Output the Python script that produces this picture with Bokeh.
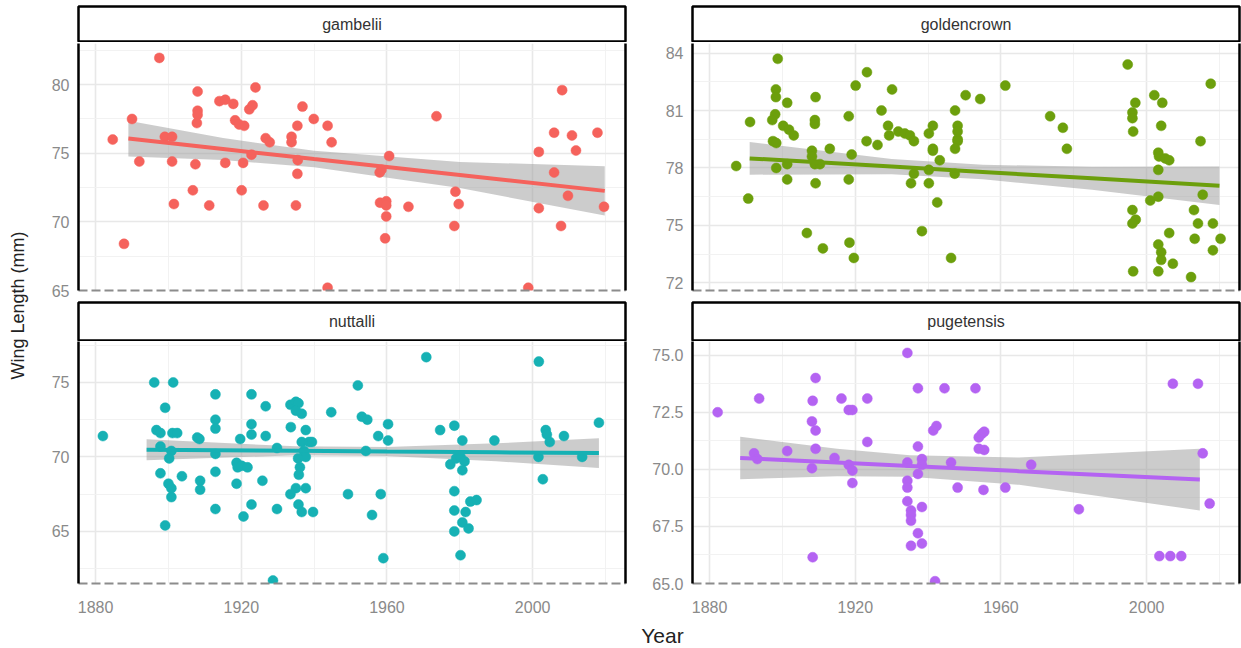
import math
from bokeh.plotting import figure
from bokeh.layouts import row, column
from bokeh.models import FixedTicker, LinearAxis, Label, NumeralTickFormatter
from bokeh.embed import file_html
from bokeh.resources import INLINE
from bokeh.core.properties import value

# ---------------- data ----------------
subspecies = ["gambelii", "goldencrown", "nuttalli", "pugetensis"]
colors = ["#F5625C", "#6C9F0C", "#16B1B4", "#B463F2"]

x_ticks = [1880, 1920, 1960, 2000]
x_minor = [1900, 1940, 1980, 2020]
x_title = "Year"
y_title = "Wing Length (mm)"

gambelii_year = [1897.5, 1890, 1892, 1899, 1901, 1901, 1887.8, 1901.5, 1908, 1908, 1908, 1907.8,
                 1907.4, 1906.7, 1911.2, 1914, 1915.6, 1917.8, 1918.3, 1919.4, 1920.8, 1922.2,
                 1923.1, 1923.9, 1920.1, 1922.8, 1926.7, 1927.8, 1926.1, 1935, 1933.8, 1933.8,
                 1935.5, 1936.8, 1939.9, 1943.7, 1944.8, 1958, 1958.5, 1960.6, 1958.1, 1959.8,
                 1959.8, 1959.8, 1959.5, 1965.9, 1973.6, 1978.8, 1979.7, 1978.5, 2001.7, 2001.7,
                 2005.9, 2005.9, 2008.1, 2009.7, 2010.8, 2011.9, 2007.8, 2017.8, 2019.6, 1915.6,
                 1920.5, 1935.4, 1935.4, 1884.7, 1943.7, 1998.8]
gambelii_wing = [81.95, 77.5, 74.4, 76.2, 76.2, 74.4, 68.4, 71.3, 79.5, 78.1, 77.8, 77.2,
                 74.2, 72.3, 71.2, 78.8, 78.9, 78.6, 77.4, 77.1, 77.0, 78.2,
                 78.5, 79.8, 72.3, 74.9, 76.1, 75.8, 71.2, 71.2, 76.2, 75.8,
                 74.5, 78.4, 77.5, 77.0, 75.8, 73.6, 73.8, 74.8, 71.4, 71.5,
                 71.2, 70.4, 68.8, 71.1, 77.7, 72.2, 71.3, 69.7, 75.1, 71.0,
                 76.5, 73.6, 79.6, 71.9, 76.3, 75.2, 69.7, 76.5, 71.1, 74.3,
                 74.3, 73.5, 77.0, 76.0, 65.2, 65.2]

goldencrown_year = [1898.7, 1891.1, 1890.6, 1898.2, 1898.2, 1901.3, 1898.0, 1897.2, 1900.2, 1901.8,
                    1903.1, 1897.4, 1898.3, 1898.3, 1901.3, 1901.3, 1909.1, 1908.9, 1908.9, 1908.1,
                    1908.1, 1908.9, 1910.3, 1909.1, 1913.0, 1918.2, 1919.0, 1918.2, 1920.1, 1923.2,
                    1923.1, 1926.1, 1927.2, 1930.1, 1929.0, 1929.3, 1931.8, 1933.6, 1935.0, 1936.1,
                    1941.3, 1940.2, 1941.3, 1941.3, 1943.2, 1936.1, 1935.3, 1940.2, 1940.2, 1947.4,
                    1948.1, 1948.1, 1948.1, 1948.1, 1947.4, 1947.3, 1950.3, 1954.3, 1961.2, 1918.4,
                    1919.6, 1946.3, 1906.7, 1911.1, 1942.5, 1938.3, 1973.5, 1977.0, 1978.1, 1994.8,
                    2017.6, 1996.9, 1996.1, 1996.1, 1996.3, 2002.1, 2004.3, 2004.0, 2014.8, 2003.2,
                    2003.4, 2005.1, 2006.2, 2003.2, 2001.0, 2003.2, 2015.4, 1996.1, 1997.0, 1996.1,
                    2006.2, 2013.0, 2013.2, 2014.1, 2018.2, 2020.3, 2018.2, 2003.2, 2004.0, 2004.0,
                    2007.2, 1996.3, 2003.2, 2012.2, 1887.3]
goldencrown_wing = [83.7, 80.4, 76.4, 82.1, 81.7, 81.4, 80.8, 80.5, 80.2, 80.0,
                    79.7, 79.4, 79.3, 78.0, 78.2, 77.4, 81.7, 80.5, 80.3, 78.9,
                    78.6, 78.2, 78.2, 77.2, 79.0, 80.7, 78.7, 77.4, 82.3, 83.0,
                    79.4, 79.2, 81.0, 82.1, 80.2, 79.7, 79.9, 79.8, 79.7, 79.4,
                    80.2, 79.8, 79.0, 78.9, 78.4, 77.7, 77.2, 77.9, 77.2, 81.0,
                    80.2, 79.9, 79.5, 79.4, 79.0, 77.7, 81.8, 81.6, 82.3, 74.1,
                    73.3, 73.3, 74.6, 73.8, 76.2, 74.7, 80.7, 80.1, 79.0, 83.4,
                    82.4, 81.4, 80.9, 80.6, 79.9, 81.8, 81.4, 80.2, 79.4, 78.8,
                    78.6, 78.5, 78.4, 77.9, 76.3, 76.5, 76.6, 75.8, 75.3, 75.1,
                    74.6, 75.8, 74.3, 75.1, 75.1, 74.3, 73.7, 74.0, 73.6, 73.2,
                    73.0, 72.6, 72.6, 72.3, 78.1]

nuttalli_year = [1882, 1896.1, 1901.3, 1899.1, 1899.1, 1896.7, 1897.8, 1901.1, 1902.4, 1897.8,
                 1900.8, 1900.2, 1897.8, 1900, 1900.8, 1900.8, 1903.7, 1907.9, 1908.5, 1908.7,
                 1908.7, 1912.9, 1912.9, 1912.9, 1912.9, 1912.9, 1912.9, 1918.7, 1919, 1920.1,
                 1921.7, 1918.7, 1919.7, 1920.6, 1922.8, 1922.8, 1922.8, 1922.8, 1925.8, 1926.7,
                 1926.7, 1929.8, 1929.8, 1933.5, 1935, 1935.7, 1935, 1936.6, 1933.6, 1937.7,
                 1936.6, 1938.6, 1939.4, 1937.2, 1937.7, 1935.6, 1936.1, 1935.8, 1935, 1937.7,
                 1933.5, 1935.7, 1936.6, 1939.7, 1944.7, 1952, 1953.1, 1954.6, 1954.2, 1949.3,
                 1958.3, 1955.9, 1959, 1957.6, 1960.3, 1960.3, 1970.8, 1974.6, 1978.5, 1980.7,
                 1977.4, 1979, 1980.2, 1981.3, 1980.7, 1978.5, 1978.5, 1981.6, 1982.9, 1984.6,
                 1980.7, 1978.5, 1982.4, 1980.2, 1989.5, 2001.6, 2002.8, 2003.6, 2003.9, 2004.7,
                 2008.6, 2013.6, 2018.2, 2001.7, 1928.7]
nuttalli_wing = [71.4, 75.0, 75.0, 73.3, 65.4, 71.8, 71.6, 71.6, 71.6, 70.7,
                 70.4, 69.9, 68.9, 68.2, 67.9, 67.3, 68.7, 71.3, 71.2, 68.4,
                 67.8, 74.2, 72.5, 71.9, 70.2, 69.0, 66.5, 69.6, 69.3, 69.4,
                 69.3, 68.2, 71.2, 66.0, 74.2, 72.2, 71.5, 66.8, 68.4, 73.4,
                 71.4, 70.6, 66.5, 73.5, 73.7, 73.6, 73.1, 72.9, 72.0, 71.8,
                 71.0, 71.0, 71.0, 70.4, 70.0, 69.9, 69.3, 68.8, 67.9, 67.9,
                 67.5, 66.8, 66.3, 66.3, 73.0, 74.8, 72.7, 72.5, 70.4, 67.5,
                 67.5, 66.1, 63.2, 71.4, 71.1, 72.2, 76.7, 71.8, 72.1, 71.1,
                 69.5, 69.9, 70.0, 69.7, 69.1, 67.7, 66.4, 66.3, 67.0, 67.1,
                 65.6, 65.0, 65.2, 63.4, 71.1, 70.0, 68.5, 71.8, 71.5, 71.0,
                 71.4, 70.0, 72.3, 76.4, 61.7]

pugetensis_year = [1882.2, 1934.3, 1909.1, 1937.2, 1944.5, 1953.0, 2007.2, 2014.1, 1893.6, 1908.3,
                   1916.2, 1923.3, 1918.2, 1919.2, 1908.1, 1909.1, 1909.1, 1901.3, 1892.2, 1893.1,
                   1914.3, 1908.1, 1918.2, 1919.2, 1919.2, 1923.3, 1934.3, 1937.2, 1938.3, 1938.3,
                   1937.2, 1934.3, 1934.3, 1934.3, 1935.3, 1935.3, 1935.3, 1938.3, 1937.2, 1935.3,
                   1938.3, 1941.4, 1942.3, 1946.3, 1948.1, 1953.9, 1954.7, 1955.4, 1953.9, 1955.4,
                   1955.2, 1961.2, 1968.3, 1981.4, 1908.3, 2003.5, 2006.5, 2009.5, 2015.4, 2017.3,
                   1941.9]
pugetensis_wing = [72.5, 75.1, 74.0, 73.55, 73.55, 73.55, 73.75, 73.75, 73.1, 73.0,
                   73.1, 73.1, 72.6, 72.6, 72.1, 71.7, 70.9, 70.8, 70.7, 70.45,
                   70.5, 70.05, 70.2, 69.95, 69.4, 71.2, 70.3, 71.0, 70.45, 70.2,
                   69.8, 69.5, 69.2, 68.6, 68.2, 68.0, 67.75, 68.35, 67.2, 66.65,
                   66.75, 71.7, 71.9, 70.3, 69.2, 71.4, 71.55, 71.65, 70.9, 70.85,
                   69.1, 69.2, 70.2, 68.25, 66.15, 66.2, 66.2, 66.2, 70.7, 68.5,
                   65.1]

# linear fits (geom_smooth, method = "lm")
gambelii_fit_year = [1889, 1915, 1940, 1980, 2019.8]
gambelii_fit = [76.07, 75.31, 74.58, 73.42, 72.26]
gambelii_lo = [74.77, 74.51, 73.98, 72.47, 70.46]
gambelii_hi = [77.37, 76.11, 75.18, 74.37, 74.06]

goldencrown_fit_year = [1891, 1930, 1955, 1985, 2020]
goldencrown_fit = [78.5, 78.07, 77.79, 77.46, 77.07]
goldencrown_lo = [77.65, 77.67, 77.41, 76.86, 76.07]
goldencrown_hi = [79.35, 78.47, 78.17, 78.06, 78.07]

nuttalli_fit_year = [1894, 1935, 1960, 1990, 2018.2]
nuttalli_fit = [70.48, 70.41, 70.36, 70.31, 70.26]
nuttalli_lo = [69.78, 70.11, 70.06, 69.71, 69.26]
nuttalli_hi = [71.18, 70.71, 70.66, 70.91, 71.26]

pugetensis_fit_year = [1888.4, 1915, 1935, 1965, 2014.6]
pugetensis_fit = [70.5, 70.3, 70.15, 69.92, 69.55]
pugetensis_lo = [69.57, 69.7, 69.68, 69.32, 68.2]
pugetensis_hi = [71.43, 70.9, 70.62, 70.52, 70.9]

y_ranges = [(65.0, 83.0), (71.6, 84.5), (61.5, 77.75), (65.0, 75.6)]
y_ticks = [[65, 70, 75, 80], [72, 75, 78, 81, 84], [65, 70, 75], [65.0, 67.5, 70.0, 72.5, 75.0]]
y_minor = [[67.5, 72.5, 77.5, 82.5], [73.5, 76.5, 79.5, 82.5], [62.5, 67.5, 72.5, 77.5],
           [66.25, 68.75, 71.25, 73.75]]

years = [gambelii_year, goldencrown_year, nuttalli_year, pugetensis_year]
wings = [gambelii_wing, goldencrown_wing, nuttalli_wing, pugetensis_wing]
fit_years = [gambelii_fit_year, goldencrown_fit_year, nuttalli_fit_year, pugetensis_fit_year]
fits = [gambelii_fit, goldencrown_fit, nuttalli_fit, pugetensis_fit]
los = [gambelii_lo, goldencrown_lo, nuttalli_lo, pugetensis_lo]
his = [gambelii_hi, goldencrown_hi, nuttalli_hi, pugetensis_hi]

FONT = "Liberation Sans"
TICK_COLOR = "#8A8A8A"


def make_strip(name, w, h, bl, br, bt, bb):
    s = figure(width=w, height=h, x_range=(0, 1), y_range=(0, 1), toolbar_location=None,
               output_backend="svg", x_axis_location=None, y_axis_location=None,
               min_border_left=bl, min_border_right=br, min_border_top=bt, min_border_bottom=bb)
    s.grid.visible = False
    s.outline_line_color = "black"
    s.outline_line_width = 2.5
    s.text(x=[0.5], y=[0.5], text=[name], text_align="center", text_baseline="middle",
           text_font=value(FONT), text_font_size="16px", text_color="#333333")
    return s


def make_panel(i, w, h, bl, br, bt, bb, bottom):
    p = figure(width=w, height=h, x_range=(1875.3, 2025.5), y_range=y_ranges[i],
               toolbar_location=None, output_backend="svg",
               min_border_left=bl, min_border_right=br, min_border_top=bt, min_border_bottom=bb)
    p.outline_line_color = None
    # axes
    p.xaxis.ticker = FixedTicker(ticks=x_ticks if bottom else [])
    p.yaxis.ticker = FixedTicker(ticks=y_ticks[i])
    for ax in (p.xaxis, p.yaxis):
        ax.major_tick_line_color = None
        ax.minor_tick_line_color = None
        ax.major_tick_out = 0
        ax.major_tick_in = 0
        ax.major_label_text_font = FONT
        ax.major_label_text_font_size = "16px"
        ax.major_label_text_color = TICK_COLOR
    p.xaxis.axis_line_color = "#8C8C8C"
    p.xaxis.axis_line_width = 2
    p.xaxis.axis_line_dash = "9 4"
    p.xaxis.major_label_standoff = 17
    p.yaxis.axis_line_color = "black"
    p.yaxis.axis_line_width = 2.5
    p.yaxis.major_label_standoff = 9
    if i == 3:
        p.yaxis.formatter = NumeralTickFormatter(format="0.0")
    right = LinearAxis(ticker=FixedTicker(ticks=[]), axis_line_color="black", axis_line_width=2.5,
                       major_tick_line_color=None, minor_tick_line_color=None,
                       major_tick_out=0, major_tick_in=0)
    p.add_layout(right, "right")
    # grids
    p.xgrid.ticker = FixedTicker(ticks=x_ticks, minor_ticks=x_minor)
    p.ygrid.ticker = FixedTicker(ticks=y_ticks[i], minor_ticks=y_minor[i])
    for g in (p.xgrid, p.ygrid):
        g.grid_line_color = "#E8E8E8"
        g.grid_line_width = 1.6
        g.minor_grid_line_color = "#F1F1F1"
        g.minor_grid_line_width = 0.9
    # glyphs
    p.varea(x=fit_years[i], y1=los[i], y2=his[i], fill_color="#999999", fill_alpha=0.5)
    p.scatter(x=years[i], y=wings[i], size=10, fill_color=colors[i], line_color=colors[i],
              line_width=0.5)
    p.line(x=fit_years[i], y=fits[i], line_color=colors[i], line_width=4)
    return p


YL_W = 30
LW, RW = 602, 609
L_BL, L_BR = 48, 7
R_BL, R_BR = 60, 2

s_tl = make_strip(subspecies[0], LW, 42, L_BL, L_BR, 6, 1)
s_tr = make_strip(subspecies[1], RW, 42, R_BL, R_BR, 6, 1)
p_tl = make_panel(0, LW, 258, L_BL, L_BR, 1, 10, False)
p_tr = make_panel(1, RW, 258, R_BL, R_BR, 1, 10, False)
s_bl = make_strip(subspecies[2], LW, 41, L_BL, L_BR, 2, 1)
s_br = make_strip(subspecies[3], RW, 41, R_BL, R_BR, 2, 1)
p_bl = make_panel(2, LW, 284, L_BL, L_BR, 0, 42, True)
p_br = make_panel(3, RW, 284, R_BL, R_BR, 0, 42, True)

GRID_H = 42 + 258 + 41 + 284

ylab = figure(width=YL_W, height=GRID_H, toolbar_location=None, output_backend="svg",
              x_axis_location=None, y_axis_location=None,
              min_border_left=0, min_border_right=0, min_border_top=0, min_border_bottom=0)
ylab.grid.visible = False
ylab.outline_line_color = None
ylab.add_layout(Label(x=17, y=GRID_H - 305, x_units="screen", y_units="screen", text=y_title,
                      angle=math.pi / 2, text_align="center", text_baseline="middle",
                      text_font=FONT, text_font_size="18px", text_color="#222222"))

xlab = figure(width=YL_W + LW + RW, height=648 - GRID_H, toolbar_location=None,
              output_backend="svg", x_axis_location=None, y_axis_location=None,
              min_border_left=0, min_border_right=0, min_border_top=0, min_border_bottom=0)
xlab.grid.visible = False
xlab.outline_line_color = None
xlab.add_layout(Label(x=662, y=(648 - GRID_H) - 10, x_units="screen", y_units="screen",
                      text=x_title, text_align="center", text_baseline="middle",
                      text_font=FONT, text_font_size="21px", text_color="#222222"))

grid = column(row(column(s_tl, p_tl), column(s_tr, p_tr)),
              row(column(s_bl, p_bl), column(s_br, p_br)))
page = column(row(ylab, grid), xlab)

open("out.html", "w").write(file_html(page, INLINE))
